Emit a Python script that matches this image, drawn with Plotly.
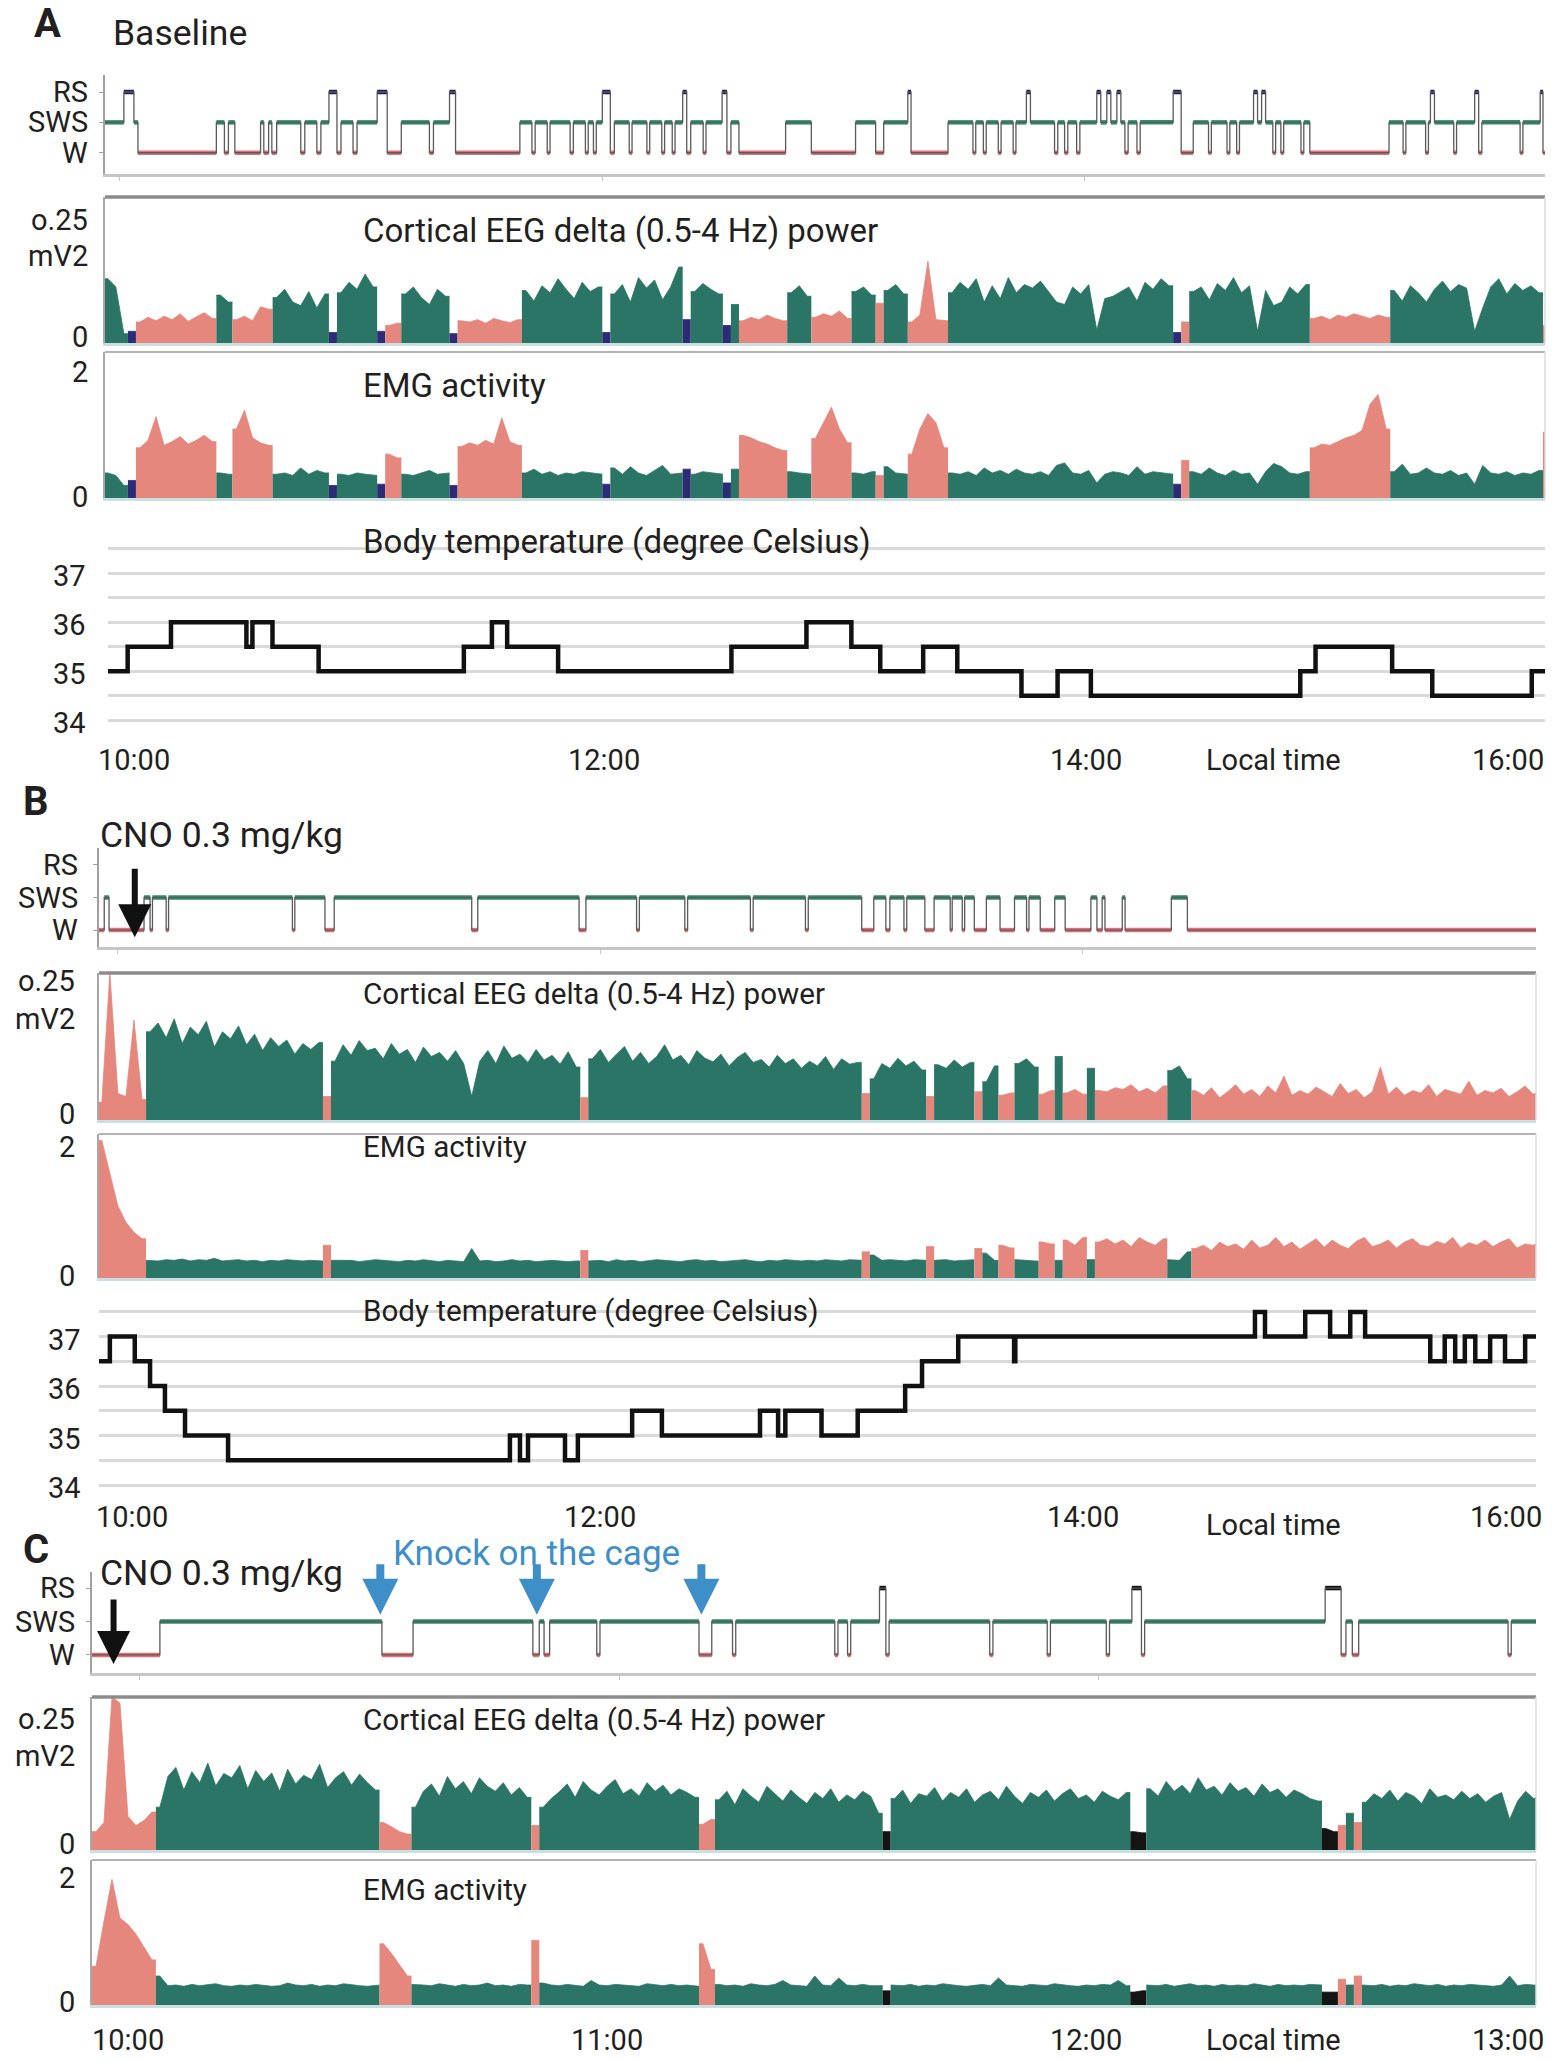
import plotly.graph_objects as go

# ======================= DATA =======================
# Hypnogram segments: (start in minutes after 10:00, state) ; W = wake, S = SWS, R = REM (RS)
A_hypnogram = [(-3.7,'S'), (1,'R'), (3.5,'S'), (4.5,'W'), (24,'S'), (26,'W'), (27,'S'), (28.6,'W'), (35,'S'), (35.8,'W'),
    (37,'S'), (37.8,'W'), (39,'S'), (45,'W'), (46,'S'), (49,'W'), (50,'S'), (52,'R'), (54,'W'), (55,'S'), (58,'W'),
    (59,'S'), (64,'R'), (66.5,'W'), (70,'S'), (77,'W'), (78,'S'), (82,'R'), (83.5,'W'), (99.5,'S'), (102.5,'W'),
    (103.3,'S'), (106.3,'W'), (107,'S'), (112,'W'), (112.8,'S'), (115.8,'W'), (116.5,'S'), (117.8,'W'), (118.5,'S'),
    (120,'R'), (122,'W'), (123,'S'), (126.7,'W'), (127.4,'S'), (131.1,'W'), (131.8,'S'), (134.8,'W'), (135.5,'S'),
    (137.4,'W'), (138.1,'S'), (140,'R'), (141,'W'), (142,'S'), (145.1,'W'), (145.8,'S'), (149.8,'R'), (151,'W'),
    (152,'S'), (154,'W'), (165.6,'S'), (172,'W'), (183,'S'), (188,'W'), (190,'S'), (196,'R'), (196.8,'W'), (206,'S'),
    (212.2,'W'), (212.9,'S'), (214.8,'W'), (215.5,'S'), (218.5,'W'), (219.2,'S'), (222.2,'W'), (222.9,'S'),
    (225.5,'R'), (226.5,'S'), (232.5,'W'), (233.3,'S'), (235,'W'), (235.8,'S'), (238,'W'), (238.8,'S'), (243,'R'),
    (244,'S'), (245.5,'R'), (246.5,'S'), (248,'R'), (249,'S'), (250,'W'), (250.8,'S'), (253,'W'), (253.8,'S'),
    (262,'R'), (264,'W'), (267,'S'), (270.8,'W'), (271.5,'S'), (275.4,'W'), (276.1,'S'), (277.8,'W'), (278.5,'S'),
    (282,'R'), (283,'S'), (284,'R'), (285,'S'), (286.8,'W'), (287.5,'S'), (288.8,'W'), (289.5,'S'), (293.8,'W'),
    (294.5,'S'), (296,'W'), (315.7,'S'), (319.2,'W'), (319.9,'S'), (324.8,'W'), (325.5,'S'), (326,'R'), (327,'S'),
    (331.8,'W'), (332.5,'S'), (337,'R'), (338,'W'), (338.8,'S'), (348.3,'W'), (349,'S'), (353.3,'R'), (354,'W')]
A_end = 354.5

B_hypnogram = [(-4.7,'W'), (-3.4,'S'), (-2.2,'W'), (6.5,'S'), (8,'W'), (8.6,'S'), (12,'W'), (12.6,'S'), (43.4,'W'),
    (44,'S'), (51.5,'W'), (53.8,'S'), (88,'W'), (89.5,'S'), (114.7,'W'), (116.4,'S'), (129,'W'), (129.7,'S'),
    (141,'W'), (141.7,'S'), (157.3,'W'), (158,'S'), (171,'W'), (171.7,'S'), (185,'W'), (188,'S'), (191,'W'),
    (192,'S'), (195.5,'W'), (196.2,'S'), (200.7,'W'), (203,'S'), (207,'W'), (207.5,'S'), (210,'W'), (210.6,'S'),
    (213,'W'), (216,'S'), (219.4,'W'), (223,'S'), (226,'W'), (226.6,'S'), (229.4,'W'), (233,'S'), (235.6,'W'),
    (242,'S'), (243.5,'W'), (244.8,'S'), (245.5,'W'), (249.8,'S'), (250.5,'W'), (262,'S'), (266,'W')]
B_end = 352.7

C_hypnogram = [(-6,'W'), (2.5,'S'), (30.3,'W'), (34.2,'S'), (49.2,'W'), (50,'S'), (50.6,'W'), (51.3,'S'),
    (57.2,'W'), (57.6,'S'), (70,'W'), (71.6,'S'), (74.2,'W'), (74.6,'S'), (87,'W'), (87.4,'S'), (88.6,'W'),
    (89,'S'), (92.6,'R'), (93.4,'W'), (93.8,'S'), (106.4,'W'), (106.8,'S'), (113.6,'W'), (114,'S'), (121,'W'),
    (121.4,'S'), (124.2,'R'), (125.4,'W'), (125.8,'S'), (148.4,'R'), (150.4,'W'), (151,'S'), (151.8,'W'),
    (152.6,'S'), (171.3,'W'), (171.7,'S')]
C_end = 174.8

# Body temperature steps: (start minute, degree Celsius)
A_temp = [(-3.7,35.0), (1.2,35.5), (12,36.0), (30.8,35.5), (32.3,36.0), (37.3,35.5), (48.8,35.0), (85,35.5),
    (92,36.0), (95.8,35.5), (108.5,35.0), (151.7,35.5), (170.4,36.0), (181.6,35.5), (188.8,35.0), (199.5,35.5),
    (208,35.0), (224,34.5), (233,35.0), (241.3,34.5), (293.5,35.0), (297.3,35.5), (316.4,35.0), (326.4,34.5),
    (351.2,35.0), (354.5,35.0)]
B_temp = [(-4.7,36.5), (-2,37.0), (4.2,36.5), (8,36.0), (11.7,35.5), (16.7,35.0), (27.4,34.5), (97.5,35.0),
    (100,34.5), (102,35.0), (111.2,34.5), (114.4,35.0), (127.9,35.5), (135.3,35.0), (159.7,35.5), (164.2,35.0),
    (166,35.5), (175,35.0), (184,35.5), (195.8,36.0), (200,36.5), (209,37.0), (222.9,36.5), (223.2,37.0),
    (282.8,37.5), (285.3,37.0), (295.3,37.5), (301.5,37.0), (306.5,37.5), (310.2,37.0), (326.4,36.5),
    (330,37.0), (332.6,36.5), (335,37.0), (337.6,36.5), (341.3,37.0), (345,36.5), (350,37.0), (352.7,37.0)]

# EEG delta power (x0.001 mV2) and EMG (x0.01) per epoch bin
A_bin_start, A_bin_w = -4, 2
A_eeg = [110, 96, 16, 20, 36, 44, 38, 46, 40, 50, 37, 45, 52, 42, 82,
         70, 40, 46, 38, 62, 58, 78, 92, 70, 64, 88, 60, 84, 18, 86,
         104, 92, 118, 96, 20, 30, 34, 84, 96, 78, 66, 92, 80, 16, 38,
         36, 40, 34, 42, 38, 35, 40, 90, 72, 98, 86, 110, 92, 76, 104,
         88, 96, 18, 84, 100, 70, 112, 94, 108, 74, 96, 130, 40, 88, 102,
         92, 84, 30, 66, 38, 44, 40, 48, 42, 38, 86, 98, 80, 44, 50,
         46, 55, 42, 88, 96, 82, 68, 90, 100, 84, 36, 48, 140, 40, 38,
         86, 104, 92, 110, 70, 98, 76, 112, 86, 100, 94, 106, 88, 70, 66,
         96, 84, 100, 22, 76, 80, 88, 96, 72, 104, 92, 110, 98, 18, 36,
         88, 96, 74, 102, 90, 112, 86, 98, 20, 90, 64, 70, 96, 84, 100,
         42, 46, 40, 48, 44, 50, 46, 42, 48, 44, 90, 72, 98, 86, 70,
         92, 106, 88, 100, 94, 20, 60, 96, 110, 84, 102, 90, 98, 86, 30]
A_emg = [40, 36, 20, 28, 80, 92, 130, 84, 90, 98, 86, 92, 100, 90, 40,
         38, 110, 140, 96, 88, 84, 38, 40, 36, 48, 38, 44, 40, 20, 38,
         36, 40, 38, 36, 22, 70, 64, 38, 36, 40, 44, 38, 40, 20, 82,
         88, 84, 92, 86, 128, 90, 84, 40, 46, 38, 42, 36, 40, 38, 42,
         40, 38, 22, 48, 38, 50, 40, 36, 44, 52, 38, 40, 46, 38, 42,
         40, 38, 24, 46, 100, 96, 90, 86, 80, 76, 42, 40, 38, 95, 120,
         145, 110, 88, 40, 38, 42, 36, 50, 40, 38, 70, 110, 135, 120, 80,
         40, 38, 42, 36, 48, 40, 44, 38, 46, 40, 38, 42, 36, 52, 56,
         40, 38, 44, 24, 38, 42, 40, 36, 50, 38, 42, 40, 38, 22, 60,
         42, 38, 48, 40, 36, 44, 38, 40, 22, 42, 55, 50, 40, 38, 42,
         80, 86, 84, 90, 96, 100, 108, 150, 165, 110, 42, 54, 38, 40, 48,
         40, 38, 44, 36, 40, 22, 52, 40, 38, 42, 36, 40, 38, 44, 105]

B_bin_start, B_bin_w = -5, 2
B_eeg = [30, 250, 45, 40, 170, 35, 150, 165, 140, 172, 130, 158, 145, 168, 124, 150, 138, 160, 128, 146,
         118, 140, 125, 136, 112, 130, 120, 132, 40, 100,
         128, 110, 135, 118, 122, 104, 130, 112, 120, 98, 124, 108, 115, 100, 118, 96, 40, 100, 118, 96,
         126, 105, 112, 98, 120, 102, 110, 95, 116, 90,
         38, 104, 120, 98, 112, 125, 100, 115, 96, 108, 128, 102, 110, 94, 118, 105, 99, 112, 92, 106,
         115, 98, 103, 90, 110, 96, 104, 88, 100, 92,
         108, 86, 104, 95, 98, 45, 70, 96, 88, 105, 92, 100, 85, 40, 94, 88, 102, 90, 98, 48,
         65, 92, 42, 46, 96, 104, 90, 44, 50, 108,
         46, 52, 44, 88, 50, 48, 55, 52, 60, 48, 54, 46, 58, 84, 92, 70, 50, 42, 55, 38,
         48, 60, 44, 52, 40, 58, 46, 75, 42, 50,
         44, 56, 48, 40, 62, 45, 52, 38, 48, 90, 44, 56, 42, 50, 46, 60, 40, 52, 48, 44,
         66, 42, 50, 46, 54, 40, 48, 58, 44, 50]
B_emg = [210, 160, 110, 85, 70, 60, 27, 26, 28, 27, 29, 26, 28, 27, 30, 26, 27, 28, 26, 27,
         25, 27, 26, 28, 27, 26, 27, 26, 50, 27,
         26, 27, 25, 26, 28, 27, 26, 25, 27, 26, 28, 26, 25, 27, 26, 25, 45, 26, 27, 25,
         26, 28, 26, 27, 25, 26, 27, 26, 25, 26,
         42, 26, 27, 25, 28, 26, 27, 25, 26, 28, 27, 26, 25, 27, 28, 26, 27, 25, 26, 27,
         28, 26, 25, 27, 26, 28, 27, 26, 27, 26,
         28, 27, 26, 28, 27, 40, 35, 27, 28, 27, 26, 28, 27, 48, 27, 28, 26, 27, 28, 45,
         38, 27, 50, 46, 28, 27, 26, 55, 52, 27,
         58, 50, 62, 28, 55, 60, 52, 58, 48, 62, 55, 50, 60, 28, 27, 40, 45, 50, 42, 55,
         48, 52, 44, 58, 46, 50, 62, 48, 55, 44,
         52, 60, 47, 58, 50, 45, 56, 62, 48, 52, 58, 46, 55, 60, 50, 48, 56, 52, 62, 46,
         54, 50, 58, 48, 55, 60, 46, 52, 50, 56]

C_bin_start, C_bin_w = -6, 1
C_eeg = [30, 45, 250, 240, 55, 40, 48, 62, 70,
         120, 135, 98, 128, 110, 142, 105, 125, 118, 138, 100, 130, 112, 126, 96, 132, 108, 122, 115, 140,
         102, 118, 128, 106, 124, 110, 98,
         45, 38, 30, 26,
         70, 96, 108, 88, 120, 100, 112, 92, 118, 104, 96, 110, 90, 102, 86,
         40, 70, 84,
         95, 108, 86, 112, 98, 90, 104, 115, 92, 100, 88, 110, 96, 106, 90, 100, 94, 86,
         42, 50,
         82, 96, 74, 100, 88, 78, 104, 92, 80, 98, 86, 76, 94, 84, 100, 78, 90, 82, 96, 88,
         60, 30,
         84, 98, 76, 92, 88, 102, 80, 94, 86, 100, 78, 90, 96, 82, 104, 88, 76, 94, 86, 98,
         80, 92, 100, 84, 90, 78, 96, 88, 82, 94,
         30, 28,
         100, 88, 112, 96, 106, 92, 118, 98, 104, 90, 110, 96, 102, 88, 108, 94, 100, 86, 98, 92, 84, 80,
         35, 30, 40, 60, 45,
         78, 92, 84, 98, 80, 94, 88, 76, 100, 86, 90, 82, 96, 84, 92, 78, 88, 94, 50, 80, 96, 84, 90]
C_emg = [60, 130, 195, 135, 125, 110, 90, 70, 45,
         30, 31, 29, 32, 30, 31, 33, 30, 29, 31, 30, 32, 31, 29, 30, 34, 31, 30, 32, 29, 31, 30, 33, 31, 30, 29, 31,
         95, 80, 62, 45,
         32, 31, 30, 33, 31, 29, 32, 30, 31, 34, 30, 31, 29, 32, 31,
         100, 34, 31,
         30, 32, 31, 29, 38, 31, 30, 32, 31, 30, 29, 33, 31, 30, 32, 30, 31, 29,
         95, 55,
         32, 30, 31, 29, 33, 31, 30, 32, 38, 31, 30, 29, 45, 31, 30, 42, 31, 30, 32, 30,
         30, 22,
         31, 30, 32, 29, 31, 30, 33, 31, 30, 29, 31, 32, 30, 42, 31, 30, 29, 32, 31, 30,
         33, 31, 30, 29, 31, 30, 32, 31, 38, 30,
         20, 22,
         31, 30, 32, 29, 31, 33, 30, 31, 29, 32, 30, 31, 30, 33, 31, 29, 32, 30, 31, 30, 32, 31,
         20, 20, 40, 31, 45,
         31, 30, 32, 29, 31, 30, 33, 31, 30, 32, 29, 31, 30, 32, 31, 30, 29, 31, 45, 30, 32, 31, 30]

STATE_LEVELS = {'W': 0, 'S': 1, 'R': 2}
TIME_TICKS_AB = [(0, '10:00'), (120, '12:00'), (240, '14:00')]
TIME_TICKS_C = [(0, '10:00'), (60, '11:00'), (120, '12:00')]

# ======================= STYLE =======================
FW, FH = 1560, 2062
FONT = 'Roboto, "Open Sans", Arial, sans-serif'
TXT = '#231f20'
FILL = {'S': '#2a7565', 'W': '#e5877c', 'R': '#2d2b78'}
FILL_C = {'S': '#2a7565', 'W': '#e5877c', 'R': '#141414'}
LINEC = {'S': '#2f8c6c', 'W': '#e07078', 'R': '#1d1d5e'}
LINEC_C = {'S': '#2f8c6c', 'W': '#e07078', 'R': '#111111'}

fig = go.Figure()
axes_layout = {}
annotations = []
shapes = []
_counter = [0]


def new_axes(xdom, xrange, ydom, yrange):
    _counter[0] += 1
    k = _counter[0]
    sfx = '' if k == 1 else str(k)
    xr, yr = 'x' + sfx, 'y' + sfx
    axes_layout['xaxis' + sfx] = dict(domain=[xdom[0] / FW, xdom[1] / FW], range=xrange, anchor=yr,
                                      showgrid=False, zeroline=False, showticklabels=False, ticks='',
                                      showline=False, fixedrange=True)
    axes_layout['yaxis' + sfx] = dict(domain=[1 - ydom[1] / FH, 1 - ydom[0] / FH], range=yrange, anchor=xr,
                                      showgrid=False, zeroline=False, showticklabels=False, ticks='',
                                      showline=False, fixedrange=True)
    return xr, yr, sfx


def text(x, y, s, size, anchor='left', color=TXT, bold=False, xref='paper', yref='paper', yanchor='middle',
         xshift=0, yshift=0):
    if xref == 'paper':
        x = x / FW
    if yref == 'paper':
        y = 1 - y / FH
    annotations.append(dict(x=x, y=y, xref=xref, yref=yref, text=('<b>%s</b>' % s) if bold else s,
                            showarrow=False, xanchor=anchor, yanchor=yanchor, xshift=xshift, yshift=yshift,
                            borderpad=0, font=dict(family=FONT, size=size, color=color)))


def segments(hyp, end):
    out = []
    for i, (t, s) in enumerate(hyp):
        t1 = hyp[i + 1][0] if i + 1 < len(hyp) else end
        out.append((t, t1, s))
    return out


def bin_states(segs, start, width, n):
    res = []
    for i in range(n):
        b0 = start + i * width
        b1 = b0 + width
        cover = {'S': 0.0, 'R': 0.0, 'W': 0.0}
        for (t0, t1, s) in segs:
            ov = min(b1, t1) - max(b0, t0)
            if ov > 0:
                cover[s] += ov
        if sum(cover.values()) == 0:
            res.append(segs[-1][2] if b0 >= segs[-1][0] else segs[0][2])
        else:
            res.append(max(cover, key=cover.get))
    return res


def draw_hypnogram(hyp, end, xr, yr, sfx, xticks, linec):
    segs = segments(hyp, end)
    for st in ['S', 'W', 'R']:
        xs, ys = [], []
        for (t0, t1, s) in segs:
            if s == st:
                xs += [t0, t1, None]
                ys += [STATE_LEVELS[s]] * 2 + [None]
        fig.add_trace(go.Scatter(x=xs, y=ys, mode='lines', xaxis=xr, yaxis=yr, hoverinfo='skip',
                                 line=dict(color=linec[st], width=4.5)))
    xs = [s[0] for s in segs] + [end]
    ys = [STATE_LEVELS[s[2]] for s in segs] + [STATE_LEVELS[segs[-1][2]]]
    fig.add_trace(go.Scatter(x=xs, y=ys, mode='lines', xaxis=xr, yaxis=yr, hoverinfo='skip',
                             line=dict(color='#5a5a5a', width=1.3, shape='hv')))
    axes_layout['yaxis' + sfx].update(showline=True, linecolor='#a0a0a0', linewidth=2, ticks='outside',
                                      ticklen=4, tickcolor='#a0a0a0', tickvals=[0, 1, 2])
    axes_layout['xaxis' + sfx].update(showline=True, linecolor='#c6c6c6', linewidth=3, ticks='outside',
                                      ticklen=4, tickcolor='#c6c6c6', tickvals=xticks)
    return segs


def draw_signal(segs, start, width, values, scale, xr, yr, sfx, fills, top_color, top_width):
    n = len(values)
    states = bin_states(segs, start, width, n)
    centers = [start + width * (i + 0.5) for i in range(n)]
    i = 0
    while i < n:
        j = i
        while j + 1 < n and states[j + 1] == states[i]:
            j += 1
        xs = [start + width * i] + centers[i:j + 1] + [start + width * (j + 1)]
        ys = [values[i] * scale] + [v * scale for v in values[i:j + 1]] + [values[j] * scale]
        col = fills[states[i]]
        fig.add_trace(go.Scatter(x=xs, y=ys, mode='lines', fill='tozeroy', fillcolor=col, xaxis=xr, yaxis=yr,
                                 hoverinfo='skip', line=dict(color=col, width=0.8)))
        i = j + 1
    axes_layout['yaxis' + sfx].update(showline=True, linecolor='#a8a8a8', linewidth=2)
    axes_layout['xaxis' + sfx].update(showline=True, linecolor='#c9dfe2', linewidth=3)
    shapes.append(dict(type='line', xref=xr + ' domain', yref=yr + ' domain', x0=0, x1=1, y0=1, y1=1,
                       line=dict(color=top_color, width=top_width)))
    shapes.append(dict(type='line', xref=xr + ' domain', yref=yr + ' domain', x0=1, x1=1, y0=0, y1=1,
                       line=dict(color='#dcdcdc', width=1.5)))


def draw_temp(temp, xr, yr, sfx, label_right):
    fig.add_trace(go.Scatter(x=[p[0] for p in temp], y=[p[1] for p in temp], mode='lines', xaxis=xr, yaxis=yr,
                             hoverinfo='skip', line=dict(color='#111111', width=4.5, shape='hv')))
    axes_layout['yaxis' + sfx].update(showgrid=True, gridcolor='#dadada', gridwidth=2.5,
                                      tickvals=[34, 34.5, 35, 35.5, 36, 36.5, 37, 37.5])
    for v in [37, 36, 35, 34]:
        text(label_right, v, str(v), 29, anchor='right', yref=yr, yshift=-3)


# ======================= PANEL A =======================
AX = (105, 1545)
AR = [-3.7, 354.5]
xa1, ya1, sa1 = new_axes(AX, AR, (75, 174), [-0.7, 2.56])
segA = draw_hypnogram(A_hypnogram, A_end, xa1, ya1, sa1, [t for t, _ in TIME_TICKS_AB], LINEC)
xa2, ya2, sa2 = new_axes(AX, AR, (197, 343), [0, 0.25])
draw_signal(segA, A_bin_start, A_bin_w, A_eeg, 0.001, xa2, ya2, sa2, FILL, '#8c8c8c', 3.5)
xa3, ya3, sa3 = new_axes(AX, AR, (352, 498), [0, 2.33])
draw_signal(segA, A_bin_start, A_bin_w, A_emg, 0.01, xa3, ya3, sa3, FILL, '#b4b4b4', 2)
xa4, ya4, sa4 = new_axes((108, 1545), AR, (540, 730), [33.8, 37.68])
draw_temp(A_temp, xa4, ya4, sa4, 87)

text(33, 24, 'A', 40, bold=True)
text(112, 33, 'Baseline', 35.5)
for lvl, lab in [(2, 'RS'), (1, 'SWS'), (0, 'W')]:
    text(89, lvl, lab, 29, anchor='right', yref=ya1)
text(89, 220, 'o.25', 29, anchor='right')
text(89, 256, 'mV2', 29, anchor='right')
text(89, 337, '0', 29, anchor='right')
text(89, 372, '2', 29, anchor='right')
text(89, 497, '0', 29, anchor='right')
text(362, 231, 'Cortical EEG delta (0.5-4 Hz) power', 33)
text(362, 385, 'EMG activity', 33)
text(362, 541, 'Body temperature (degree Celsius)', 33)
for t, lab in TIME_TICKS_AB:
    text(t, 760, lab, 29, anchor='center', xref=xa4, xshift=11 if t == 0 else 0)
text(1545, 760, '16:00', 29, anchor='right')
text(1273, 760, 'Local time', 29, anchor='center')

# ======================= PANEL B =======================
BX = (99, 1536)
BR = [-4.7, 352.7]
xb1, yb1, sb1 = new_axes(BX, BR, (848, 947), [-0.52, 2.52])
segB = draw_hypnogram(B_hypnogram, B_end, xb1, yb1, sb1, [t for t, _ in TIME_TICKS_AB], LINEC)
xb2, yb2, sb2 = new_axes(BX, BR, (973, 1120), [0, 0.25])
draw_signal(segB, B_bin_start, B_bin_w, B_eeg, 0.001, xb2, yb2, sb2, FILL, '#8c8c8c', 3.5)
xb3, yb3, sb3 = new_axes(BX, BR, (1134, 1278), [0, 2.2])
draw_signal(segB, B_bin_start, B_bin_w, B_emg, 0.01, xb3, yb3, sb3, FILL, '#b4b4b4', 2)
xb4, yb4, sb4 = new_axes(BX, BR, (1300, 1495), [33.8, 37.74])
draw_temp(B_temp, xb4, yb4, sb4, 82)

text(22, 802, 'B', 40, bold=True)
text(99, 835, 'CNO 0.3 mg/kg', 35.5)
for lvl, lab in [(2, 'RS'), (1, 'SWS'), (0, 'W')]:
    text(79, lvl, lab, 29, anchor='right', yref=yb1)
text(76, 981, 'o.25', 29, anchor='right')
text(76, 1019, 'mV2', 29, anchor='right')
text(76, 1114, '0', 29, anchor='right')
text(76, 1147, '2', 29, anchor='right')
text(76, 1276, '0', 29, anchor='right')
text(362, 994, 'Cortical EEG delta (0.5-4 Hz) power', 29.6)
text(362, 1147, 'EMG activity', 29.6)
text(362, 1311, 'Body temperature (degree Celsius)', 29.6)
for t, lab in TIME_TICKS_AB:
    text(t, 1517, lab, 29, anchor='center', xref=xb4, xshift=14 if t == 0 else 0)
text(1543, 1517, '16:00', 29, anchor='right')
text(1273, 1525, 'Local time', 29, anchor='center')
annotations.append(dict(x=4.2, y=-0.22, xref=xb1, yref=yb1, text='', showarrow=True, ax=0, ay=-70,
                        arrowhead=2, arrowsize=1.1, arrowwidth=6, arrowcolor='#111111'))

# ======================= PANEL C =======================
CX = (92, 1536)
CR = [-6, C_end]
xc1, yc1, sc1 = new_axes(CX, CR, (1572, 1673), [-0.54, 2.48])
segC = draw_hypnogram(C_hypnogram, C_end, xc1, yc1, sc1, [t for t, _ in TIME_TICKS_C], LINEC_C)
xc2, yc2, sc2 = new_axes(CX, CR, (1697, 1850), [0, 0.25])
draw_signal(segC, C_bin_start, C_bin_w, C_eeg, 0.001, xc2, yc2, sc2, FILL_C, '#8c8c8c', 3.5)
xc3, yc3, sc3 = new_axes(CX, CR, (1860, 2005), [0, 2.25])
draw_signal(segC, C_bin_start, C_bin_w, C_emg, 0.01, xc3, yc3, sc3, FILL_C, '#b4b4b4', 2)

text(22, 1549, 'C', 40, bold=True)
text(99, 1573, 'CNO 0.3 mg/kg', 35.5)
text(392, 1553, 'Knock on the cage', 35, color='#3e8fc8')
for lvl, lab in [(2, 'RS'), (1, 'SWS'), (0, 'W')]:
    text(76, lvl, lab, 29, anchor='right', yref=yc1)
text(76, 1719, 'o.25', 29, anchor='right')
text(76, 1756, 'mV2', 29, anchor='right')
text(76, 1844, '0', 29, anchor='right')
text(76, 1878, '2', 29, anchor='right')
text(76, 2002, '0', 29, anchor='right')
text(362, 1720, 'Cortical EEG delta (0.5-4 Hz) power', 29.6)
text(362, 1890, 'EMG activity', 29.6)
for t, lab in TIME_TICKS_C:
    text(t, 2040, lab, 29, anchor='center', xref=xc3, xshift=-12)
text(1545, 2040, '13:00', 29, anchor='right')
text(1273, 2040, 'Local time', 29, anchor='center')
annotations.append(dict(x=-3.3, y=-0.27, xref=xc1, yref=yc1, text='', showarrow=True, ax=0, ay=-66,
                        arrowhead=2, arrowsize=1.1, arrowwidth=6, arrowcolor='#111111'))
for kx in [30.1, 49.7, 70.3]:
    annotations.append(dict(x=kx, y=1.2, xref=xc1, yref=yc1, text='', showarrow=True, ax=0, ay=-52,
                            arrowhead=2, arrowsize=0.9, arrowwidth=8, arrowcolor='#3e8fc8'))

fig.update_layout(width=FW, height=FH, margin=dict(l=0, r=0, t=0, b=0), paper_bgcolor='white',
                  plot_bgcolor='white', showlegend=False,
                  annotations=annotations, shapes=shapes, **axes_layout)
fig.write_html('out.html', config={'displayModeBar': False}, post_script="document.body.style.margin='0';")
